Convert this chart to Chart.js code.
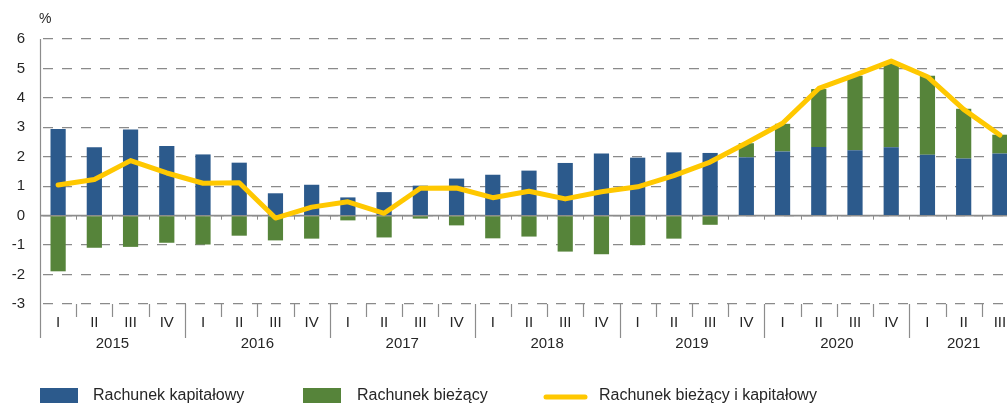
<!DOCTYPE html>
<html><head><meta charset="utf-8">
<script src="https://cdn.jsdelivr.net/npm/chart.js@4"></script>
<style>
html,body{margin:0;padding:0;background:#fff;overflow:hidden;width:1007px;height:403px}
canvas{display:block}
</style></head>
<body>
<canvas id="c" width="1020" height="403"></canvas>
<script>
const quarters = ['I','II','III','IV','I','II','III','IV','I','II','III','IV','I','II','III','IV','I','II','III','IV','I','II','III','IV','I','II','III'];
const years = ['2015','2015','2015','2015','2016','2016','2016','2016','2017','2017','2017','2017','2018','2018','2018','2018','2019','2019','2019','2019','2020','2020','2020','2020','2021','2021','2021'];
const capitalAccount = [2.94,2.32,2.93,2.37,2.08,1.80,0.76,1.05,0.62,0.80,1.02,1.26,1.39,1.53,1.79,2.11,1.97,2.15,2.13,1.98,2.18,2.33,2.22,2.32,2.07,1.94,2.11];
const currentAccount = [-1.89,-1.09,-1.06,-0.92,-0.98,-0.68,-0.84,-0.78,-0.16,-0.74,-0.10,-0.33,-0.77,-0.71,-1.22,-1.31,-1.00,-0.78,-0.31,0.48,0.94,1.97,2.53,2.90,2.68,1.69,0.64];
const combined = [1.04,1.23,1.87,1.45,1.10,1.12,-0.08,0.29,0.47,0.08,0.93,0.94,0.61,0.83,0.57,0.81,0.98,1.36,1.82,2.47,3.14,4.32,4.77,5.25,4.72,3.61,2.74];
const yTicks = [-3,-2,-1,0,1,2,3,4,5,6];
const labelCapital = 'Rachunek kapitałowy';
const labelCurrent = 'Rachunek bieżący';
const labelCombined = 'Rachunek bieżący i kapitałowy';

const BLUE = '#2C5A8C', GREEN = '#56843A', YELLOW = '#FFC800';
const GRID = '#8a8a8a', TEXT = '#262626';
const FONT = '"Liberation Sans", Arial, sans-serif';

const decor = {
  id: 'decor',
  beforeDatasetsDraw(chart) {
    const {ctx, chartArea: a, scales: {x, y}} = chart;
    const y0 = y.getPixelForValue(0);
    ctx.save();
    ctx.strokeStyle = '#8c8c8c';
    ctx.lineWidth = 1.6;
    ctx.setLineDash([]);
    ctx.beginPath(); ctx.moveTo(a.left, y0); ctx.lineTo(a.right, y0); ctx.stroke();
    ctx.lineWidth = 1;
    const half = (x.getPixelForValue(1) - x.getPixelForValue(0)) / 2;
    for (let i = 0; i < quarters.length; i++) {
      const bx = Math.round(x.getPixelForValue(i) + half) + 0.5;
      ctx.beginPath(); ctx.moveTo(bx, y0); ctx.lineTo(bx, y0 + 4); ctx.stroke();
    }
    ctx.restore();
  },
  afterDraw(chart) {
    const {ctx, chartArea: a, scales: {x, y}} = chart;
    const yb = y.getPixelForValue(-3);
    const half = (x.getPixelForValue(1) - x.getPixelForValue(0)) / 2;
    ctx.save();
    ctx.setLineDash([]);
    ctx.strokeStyle = '#8c8c8c';
    ctx.lineWidth = 1.2;
    // left axis line
    ctx.beginPath(); ctx.moveTo(a.left + 0.5, a.top); ctx.lineTo(a.left + 0.5, yb + 34); ctx.stroke();
    // boundary ticks
    for (let i = 0; i < quarters.length; i++) {
      const bx = Math.round(x.getPixelForValue(i) + half) + 0.5;
      const yearEnd = i + 1 < years.length && years[i + 1] !== years[i];
      ctx.beginPath(); ctx.moveTo(bx, yb); ctx.lineTo(bx, yb + (yearEnd ? 34 : 13)); ctx.stroke();
    }
    // year labels
    ctx.fillStyle = TEXT;
    ctx.font = '15px ' + FONT;
    ctx.textAlign = 'center';
    ctx.textBaseline = 'middle';
    const uniq = [...new Set(years)];
    uniq.forEach(yr => {
      const idx = years.map((v, i) => v === yr ? i : -1).filter(i => i >= 0);
      const cx = (x.getPixelForValue(idx[0]) + x.getPixelForValue(idx[idx.length - 1])) / 2;
      ctx.fillText(yr, cx, yb + 40);
    });
    // percent unit
    ctx.font = '14px ' + FONT;
    ctx.textAlign = 'left';
    ctx.fillText('%', 39, 19);
    // legend
    const ds = chart.data.datasets;
    ctx.font = '16px ' + FONT;
    ctx.textBaseline = 'alphabetic';
    const items = [
      {ds: ds[0], x: 40, tx: 93},
      {ds: ds[1], x: 303, tx: 357},
      {ds: ds[2], x: 544, tx: 599}
    ];
    items.forEach(it => {
      if (it.ds.type === 'line') {
        ctx.strokeStyle = it.ds.borderColor;
        ctx.lineWidth = 5;
        ctx.lineCap = 'round';
        ctx.beginPath(); ctx.moveTo(it.x + 2, 397); ctx.lineTo(it.x + 41, 397); ctx.stroke();
      } else {
        ctx.fillStyle = it.ds.backgroundColor;
        ctx.fillRect(it.x, 388, 38, 16);
      }
      ctx.fillStyle = TEXT;
      ctx.fillText(it.ds.label, it.tx, 400);
    });
    ctx.restore();
  }
};

new Chart(document.getElementById('c'), {
  type: 'bar',
  data: {
    labels: quarters,
    datasets: [
      {type: 'bar', label: labelCapital, data: capitalAccount, backgroundColor: BLUE, order: 1, stack: 'acc',
       categoryPercentage: 1, barPercentage: 0.42},
      {type: 'bar', label: labelCurrent, data: currentAccount, backgroundColor: GREEN, order: 2, stack: 'acc',
       categoryPercentage: 1, barPercentage: 0.42},
      {type: 'line', label: labelCombined, data: combined, borderColor: YELLOW, backgroundColor: YELLOW,
       borderWidth: 5, pointRadius: 0, tension: 0, order: 0, stack: 'line', borderJoinStyle: 'round', borderCapStyle: 'round'}
    ]
  },
  options: {
    responsive: false,
    animation: false,
    events: [],
    layout: {padding: {top: 39, left: 0, right: 2, bottom: 0}},
    plugins: {legend: {display: false}, tooltip: {enabled: false}},
    scales: {
      x: {
        stacked: true,
        offset: true,
        grid: {display: false, drawTicks: false},
        border: {display: false},
        ticks: {color: TEXT, font: {size: 15, family: FONT}, padding: 10, maxRotation: 0, autoSkip: false},
        afterFit(s) { s.height = 99; }
      },
      y: {
        stacked: true,
        min: -3, max: 6,
        afterBuildTicks(s) { s.ticks = yTicks.map(v => ({value: v})); },
        grid: {color: GRID, lineWidth: 1.3, drawTicks: false},
        border: {display: false, dash: [10, 9], dashOffset: 16},
        ticks: {color: TEXT, font: {size: 15, family: FONT}, padding: 15},
        afterFit(s) { s.width = 40; }
      }
    }
  },
  plugins: [decor]
});
</script>
</body></html>
